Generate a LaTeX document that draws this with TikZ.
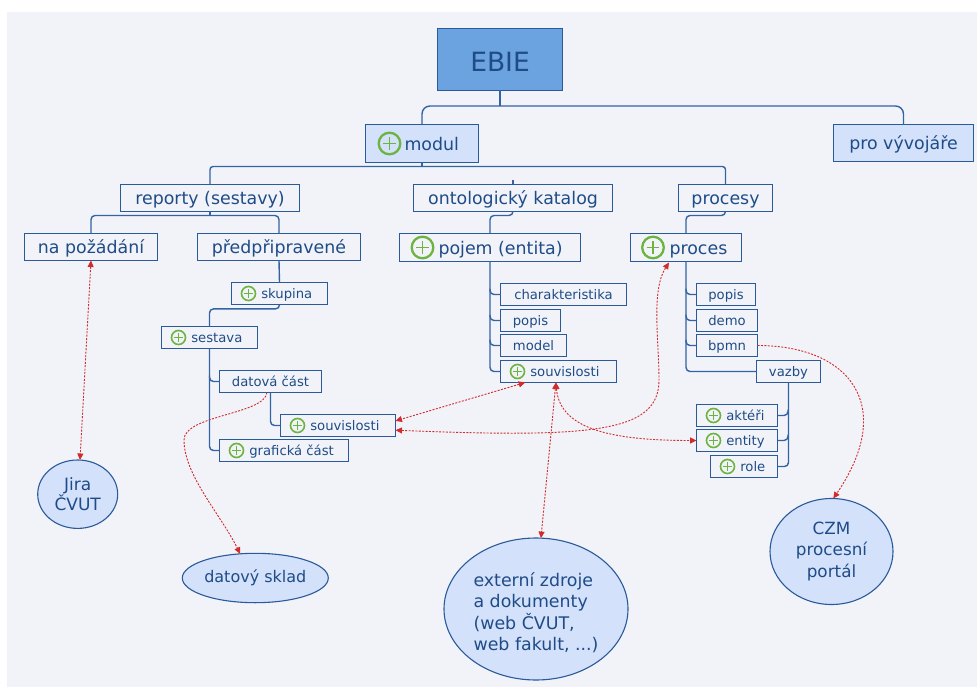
\documentclass[tikz,border=0pt]{standalone}
\usepackage{fontspec}
\setmainfont{DejaVu Sans}
\usetikzlibrary{shapes.geometric,arrows.meta,calc}

\definecolor{panel}{HTML}{F1F3F9}
\definecolor{light}{HTML}{D3E1FB}
\definecolor{ebiefill}{HTML}{6AA3E0}
\definecolor{boxline}{HTML}{2A5A99}
\definecolor{treeline}{HTML}{3363A2}
\definecolor{txt}{HTML}{1F4C87}
\definecolor{relred}{HTML}{D12B2B}
\definecolor{plusgreen}{HTML}{6DB33F}

\newcommand\fL{\fontsize{17.4}{20}\selectfont}
\newcommand\fS{\fontsize{13.2}{15}\selectfont}
\newcommand\fE{\fontsize{16.8}{21.5}\selectfont}
\newcommand\fT{\fontsize{26.5}{30}\selectfont}
% text shifted right inside a box of given width (room for the plus icon)
\newcommand\itxt[3]{\makebox[#1pt][l]{\hspace*{#2pt}#3}}

\tikzset{
  box/.style={draw=boxline, line width=1.3pt, fill=panel, text=txt,
    inner sep=0pt, outer sep=0pt, anchor=north west},
  lbox/.style={box, font=\fL, text height=14.8pt, text depth=1.7pt},
  sbox/.style={box, font=\fS, minimum height=22pt, text height=11.2pt, text depth=1.3pt},
  hi/.style={fill=light},
  tree/.style={draw=treeline, line width=1.4pt, rounded corners=4pt},
  blob/.style={ellipse, draw=boxline, line width=1.1pt, fill=light, text=txt,
    inner sep=0pt, outer sep=0pt, font=\fE, align=center},
  rel/.style={draw=relred, line width=0.9pt, dash pattern=on 2pt off 1.4pt,
    >={Triangle[length=6.5pt,width=6pt]}},
  bigplus/.pic={
    \draw[plusgreen, line width=2.3pt] (0,0) circle (10.8pt);
    \draw[plusgreen, line width=1.7pt] (-6.3,0) -- (6.3,0) (0,-6.3) -- (0,6.3);
  },
  smallplus/.pic={
    \draw[plusgreen, line width=1.6pt] (0,0) circle (7pt);
    \draw[plusgreen, line width=1.2pt] (-4.2,0) -- (4.2,0) (0,-4.2) -- (0,4.2);
  }
}

\begin{document}
\begin{tikzpicture}[x=1pt, y=-1pt]
\useasboundingbox (0,0) rectangle (977,687);
\fill[white] (0,0) rectangle (977,687);
\fill[panel] (7,12) rectangle (977,687);

% ---------- boxes ----------
\node[box, fill=ebiefill, font=\fT, text height=24pt, text depth=0pt,
      minimum width=125pt, minimum height=62pt] (ebie) at (437.5,28.5) {EBIE};

\node[lbox, hi, minimum width=113pt, minimum height=38pt] (modul) at (365.5,124.5) {\itxt{113}{39}{modul}};
\node[lbox, hi, minimum width=140pt, minimum height=37pt] (provyv) at (833.5,124.5) {pro vývojáře};

\node[lbox, minimum width=179pt, minimum height=27pt] (reporty) at (120.5,184.5) {reporty (sestavy)};
\node[lbox, minimum width=199pt, minimum height=27pt] (ontol) at (413.5,184.5) {ontologický katalog};
\node[lbox, minimum width=94pt, minimum height=27pt] (procesy) at (678.5,184.5) {procesy};

\node[lbox, minimum width=133pt, minimum height=27pt] (napoz) at (24.5,233.5) {na požádání};
\node[lbox, minimum width=163pt, minimum height=27pt] (predpr) at (197.5,233.5) {předpřipravené};
\node[lbox, minimum width=181pt, minimum height=28pt] (pojem) at (399.5,233.5) {\itxt{181}{39}{pojem (entita)}};
\node[lbox, minimum width=111pt, minimum height=28pt] (proces) at (630.5,233.5) {\itxt{111}{39}{proces}};

\node[sbox, minimum width=96pt] (skupina) at (231.5,282.5) {\itxt{96}{29.8}{skupina}};
\node[sbox, minimum width=96pt] (sestava) at (161.5,326.5) {\itxt{96}{29.8}{sestava}};
\node[sbox, minimum width=102pt] (datova) at (219.5,370.5) {datová část};
\node[sbox, minimum width=115pt] (souvL) at (280.5,414.5) {\itxt{115}{29.8}{souvislosti}};
\node[sbox, minimum width=129pt] (grafic) at (219.5,439.5) {\itxt{129}{29.8}{grafická část}};

\node[sbox, minimum width=126pt] (charakt) at (500.5,283.5) {charakteristika};
\node[sbox, minimum width=60pt] (popisP) at (500.5,309.5) {popis};
\node[sbox, minimum width=66pt] (model) at (500.5,334.5) {model};
\node[sbox, minimum width=116pt] (souvP) at (500.5,360.5) {\itxt{116}{29.8}{souvislosti}};

\node[sbox, minimum width=59pt] (popisR) at (696.5,283.5) {popis};
\node[sbox, minimum width=61pt] (demo) at (696.5,309.5) {demo};
\node[sbox, minimum width=61pt] (bpmn) at (696.5,334.5) {bpmn};
\node[sbox, minimum width=64pt] (vazby) at (756.5,360.5) {vazby};
\node[sbox, minimum width=81pt] (akteri) at (696.5,404.5) {\itxt{81}{29.8}{aktéři}};
\node[sbox, minimum width=81pt] (entity) at (696.5,429.5) {\itxt{81}{29.8}{entity}};
\node[sbox, minimum width=67pt] (role) at (710.5,455.5) {\itxt{67}{29.8}{role}};

% ---------- plus icons ----------
\pic at ($(modul.west)+(24,0)$) {bigplus};
\pic at ($(pojem.west)+(23,0)$) {bigplus};
\pic at ($(proces.west)+(22.5,0)$) {bigplus};
\foreach \b in {skupina,sestava,souvL,grafic,souvP,akteri,entity,role}
  \pic at ($(\b.west)+(17,0)$) {smallplus};

% ---------- external ellipses ----------
\node[blob, font=\fontsize{17}{20.5}\selectfont, minimum width=80pt, minimum height=68.4pt] (jira) at (77.7,494.2) {Jira\\ČVUT};
\node[blob, font=\fontsize{16}{20}\selectfont, minimum width=146pt, minimum height=49.4pt] (sklad) at (255.3,578) {\makebox[0pt]{datový sklad}};
\node[blob, font=\fontsize{17.4}{21.5}\selectfont, align=left, text height=86pt,
      minimum width=184pt, minimum height=142pt] (ext) at (536,609) {externí zdroje\\a dokumenty\\(web ČVUT,\\web fakult, ...)};
\node[blob, minimum width=123pt, minimum height=106pt] (czm) at (831.5,551.5) {CZM\\procesní\\portál};

% ---------- tree connectors ----------
\draw[tree] (ebie.south) -- ++(0,15.5);
\draw[tree, rounded corners=8pt] (modul.north) |- ($(ebie.south)+(0,15.5)$) -| (provyv.north);

\draw[tree] (modul.south) -- ++(0,4);
\draw[tree, rounded corners=3pt] (reporty.north) |- ($(modul.south)+(0,4)$) -| (procesy.north);
\draw[tree] (ontol.north) -- ++(0,-4);

\draw[tree, rounded corners=4pt] (napoz.north) |- ($(reporty.south)+(0,4)$) -| (predpr.north);
\draw[tree] (reporty.south) -- ++(0,4);
\draw[tree] (ontol.south) -- ++(0,4) -| (pojem.north);
\draw[tree] (procesy.south) -- ++(0,4) -| (proces.north);

\draw[tree] (predpr.south) -- (skupina.north);
\draw[tree] (skupina.south) -- ++(0,4.4) -| (sestava.north);
\draw[tree] (sestava.south) |- (grafic.west);
\draw[tree] ($(datova.west)+(-10,-6)$) |- (datova.west);
\draw[tree] (datova.south) |- (souvL.west);

\draw[tree] (pojem.south) |- (souvP.west);
\foreach \b in {charakt,popisP,model}
  \draw[tree] ($(\b.west)+(-10.5,-6)$) |- (\b.west);

\draw[tree] (proces.south) |- (vazby.west);
\foreach \b in {popisR,demo,bpmn}
  \draw[tree] ($(\b.west)+(-10.5,-6)$) |- (\b.west);

\draw[tree] (vazby.south) |- (role.east);
\foreach \b in {akteri,entity}
  \draw[tree] ($(\b.east)+(10.5,-6)$) |- (\b.east);

% ---------- cross relations ----------
\draw[rel, <->] (napoz.south) -- ($(jira.north)+(2.3,0)$);
\draw[rel, ->] ($(datova.south)+(-3.6,0)$) .. controls +(-2,22) and +(0,-25) .. (184,440)
   .. controls +(0,35) and +(-20,-40) .. (sklad.122);
\draw[rel, <->] ($(souvP.south west)+(24.7,0)$) -- ($(souvL.east)+(0,-4.6)$);
\draw[rel, <->] ($(souvL.east)+(0,4.7)$) .. controls +(200,8) and +(0,52) .. (659,380)
   .. controls +(0,-40) and +(-18,28) .. ($(proces.south)+(-17,1)$);
\draw[rel, <->] ($(souvP.south)+(-2.6,0)$) .. controls +(4,45) and +(-90,0) .. (entity.west);
\draw[rel, <->] ($(souvP.south)+(-2.6,0)$) -- (ext.86);
\draw[rel, ->] (bpmn.east) .. controls +(92,0) and +(63.5,-93) .. ($(czm.north)+(1.8,0)$);
\end{tikzpicture}
\end{document}
